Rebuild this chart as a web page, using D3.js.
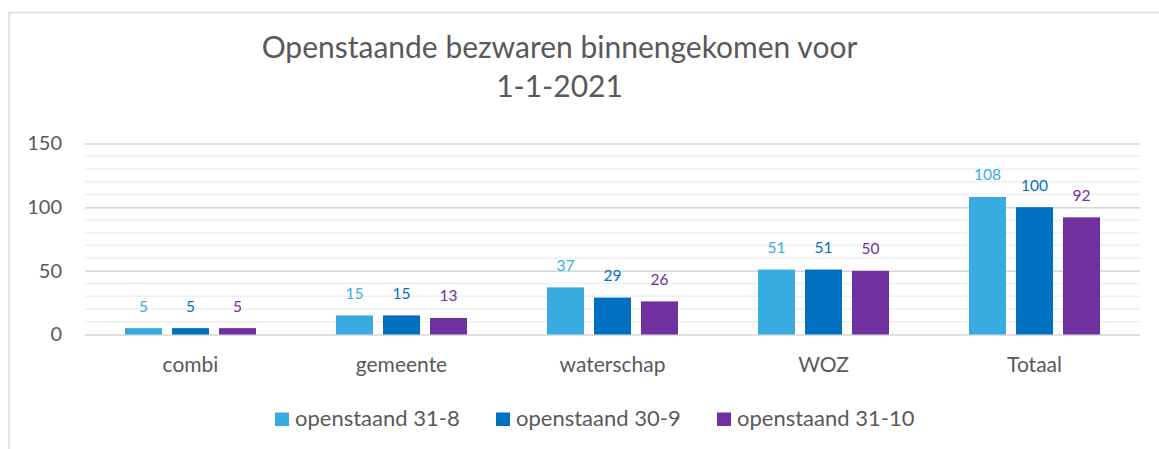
<!DOCTYPE html>
<html>
<head>
<meta charset="utf-8">
<script src="https://cdn.jsdelivr.net/npm/d3@7"></script>
<style>
html,body{margin:0;padding:0;background:#fff;}
svg{display:block;font-family:Lato,"Open Sans",sans-serif;}
</style>
</head>
<body>
<svg id="chart" width="1159" height="449"></svg>
<script>
const categories = ["combi", "gemeente", "waterschap", "WOZ", "Totaal"];
const seriesNames = ["openstaand 31-8", "openstaand 30-9", "openstaand 31-10"];
const values318 = [5, 15, 37, 51, 108];
const values309 = [5, 15, 29, 51, 100];
const values3110 = [5, 13, 26, 50, 92];
const yTicks = [0, 50, 100, 150];
const minorTicks = [10, 20, 30, 40, 60, 70, 80, 90, 110, 120, 130, 140];
const titleLines = ["Openstaande bezwaren binnengekomen voor", "1-1-2021"];
const colors = ["#38ABE1", "#0070C0", "#7030A0"];

const seriesValues = [values318, values309, values3110];
const svg = d3.select("#chart");

// chart border
svg.append("path")
  .attr("d", "M9,449 V12.5 H1159")
  .attr("fill", "none").attr("stroke", "#d9d9d9").attr("stroke-width", 1.5);

const x0 = d3.scaleBand().domain(categories).range([85, 1140]).paddingInner(0).paddingOuter(0);
const x1 = d3.scaleBand().domain(seriesNames).range([0, x0.bandwidth()]).paddingInner(10/47).paddingOuter(0.851);
const y = d3.scaleLinear().domain([0, 150]).range([334.5, 143.5]);

// minor gridlines
svg.append("g").selectAll("line").data(minorTicks).join("line")
  .attr("x1", 85).attr("x2", 1140)
  .attr("y1", d => y(d)).attr("y2", d => y(d))
  .attr("stroke", "#efefef").attr("stroke-width", 1.5);

// y axis with major gridlines
const yAxis = d3.axisLeft(y).tickValues(yTicks).tickSize(-(1140 - 85)).tickPadding(23);
const gy = svg.append("g").attr("transform", "translate(85,0)").call(yAxis);
gy.select(".domain").remove();
gy.selectAll(".tick line").attr("stroke", "#d6d6d6").attr("stroke-width", 1.5);
gy.selectAll(".tick text").attr("fill", "#595959").attr("font-size", 20).attr("font-family", "Lato");

// bars
const groups = svg.append("g").selectAll("g").data(categories).join("g")
  .attr("transform", d => `translate(${x0(d)},0)`);

groups.selectAll("rect").data((c, i) => seriesNames.map((s, j) => ({s, j, v: seriesValues[j][i]})))
  .join("rect")
  .attr("x", d => x1(d.s)).attr("width", x1.bandwidth())
  .attr("y", d => y(d.v)).attr("height", d => y(0) - y(d.v))
  .attr("fill", d => colors[d.j]);

groups.selectAll("text").data((c, i) => seriesNames.map((s, j) => ({s, j, v: seriesValues[j][i]})))
  .join("text")
  .attr("x", d => x1(d.s) + x1.bandwidth() / 2)
  .attr("y", d => y(d.v) - 16.5)
  .attr("text-anchor", "middle")
  .attr("font-size", 15.5)
  .attr("fill", d => colors[d.j])
  .text(d => d.v);

// x axis labels
const xAxis = d3.axisBottom(x0).tickSize(0).tickPadding(0);
const gx = svg.append("g").attr("transform", "translate(0,334.5)").call(xAxis);
gx.select(".domain").remove();
gx.selectAll(".tick text").attr("fill", "#595959").attr("font-size", 21).attr("font-family", "Lato")
  .attr("dy", null).attr("y", 37.5);

// title
svg.append("g").selectAll("text").data(titleLines).join("text")
  .attr("x", 559.5).attr("y", (d, i) => 58 + i * 39)
  .attr("text-anchor", "middle").attr("font-size", 30).attr("fill", "#595959")
  .text(d => d);

// legend
const legendX = [275, 496, 717];
const lg = svg.append("g").selectAll("g").data(seriesNames).join("g")
  .attr("transform", (d, i) => `translate(${legendX[i]},0)`);
lg.append("rect").attr("x", 0).attr("y", 412.5).attr("width", 14).attr("height", 13.5)
  .attr("fill", (d, i) => colors[i]);
lg.append("text").attr("x", 20).attr("y", 426).attr("font-size", 22).attr("fill", "#595959")
  .text(d => d);
</script>
</body>
</html>
